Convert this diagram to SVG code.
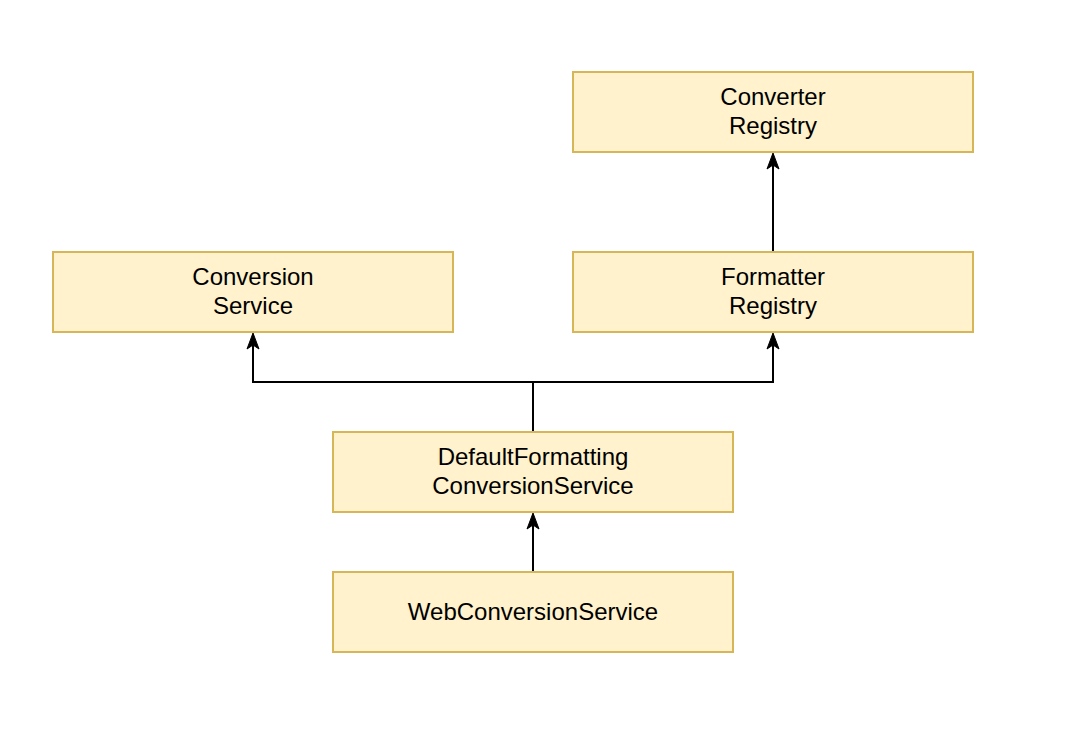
<svg xmlns="http://www.w3.org/2000/svg" width="1090" height="750" viewBox="0 0 1090 750">
<style>
.box{fill:#fff2cc;stroke:#d6b656;stroke-width:2}
.lbl{font-family:"Liberation Sans",Arial,sans-serif;font-size:24px;fill:#000;text-anchor:middle}
.edge{fill:none;stroke:#000;stroke-width:2}
</style>
<defs>
<marker id="arr" markerUnits="userSpaceOnUse" markerWidth="18" markerHeight="18" viewBox="0 0 18 18" refX="16" refY="9" orient="auto">
<path d="M1,3 L17,9 L1,15 L5,9 Z" fill="#000" stroke="#000" stroke-width="1"/>
</marker>
</defs>
<rect width="1090" height="750" fill="#fff"/>
<g id="connectors">
<path class="edge" d="M773,252 L773,154" marker-end="url(#arr)"/>
<path class="edge" d="M533,432 L533,382 L253,382 L253,334" marker-end="url(#arr)"/>
<path class="edge" d="M533,382 L773,382 L773,334" marker-end="url(#arr)"/>
<path class="edge" d="M533,572 L533,514" marker-end="url(#arr)"/>
</g>
<g id="converter-registry">
<rect class="box" x="573" y="72" width="400" height="80"/>
<text class="lbl" x="773" y="105">Converter</text>
<text class="lbl" x="773" y="134">Registry</text>
</g>
<g id="conversion-service">
<rect class="box" x="53" y="252" width="400" height="80"/>
<text class="lbl" x="253" y="285">Conversion</text>
<text class="lbl" x="253" y="314">Service</text>
</g>
<g id="formatter-registry">
<rect class="box" x="573" y="252" width="400" height="80"/>
<text class="lbl" x="773" y="285">Formatter</text>
<text class="lbl" x="773" y="314">Registry</text>
</g>
<g id="default-formatting-conversion-service">
<rect class="box" x="333" y="432" width="400" height="80"/>
<text class="lbl" x="533" y="465">DefaultFormatting</text>
<text class="lbl" x="533" y="494">ConversionService</text>
</g>
<g id="web-conversion-service">
<rect class="box" x="333" y="572" width="400" height="80"/>
<text class="lbl" x="533" y="620">WebConversionService</text>
</g>
</svg>
